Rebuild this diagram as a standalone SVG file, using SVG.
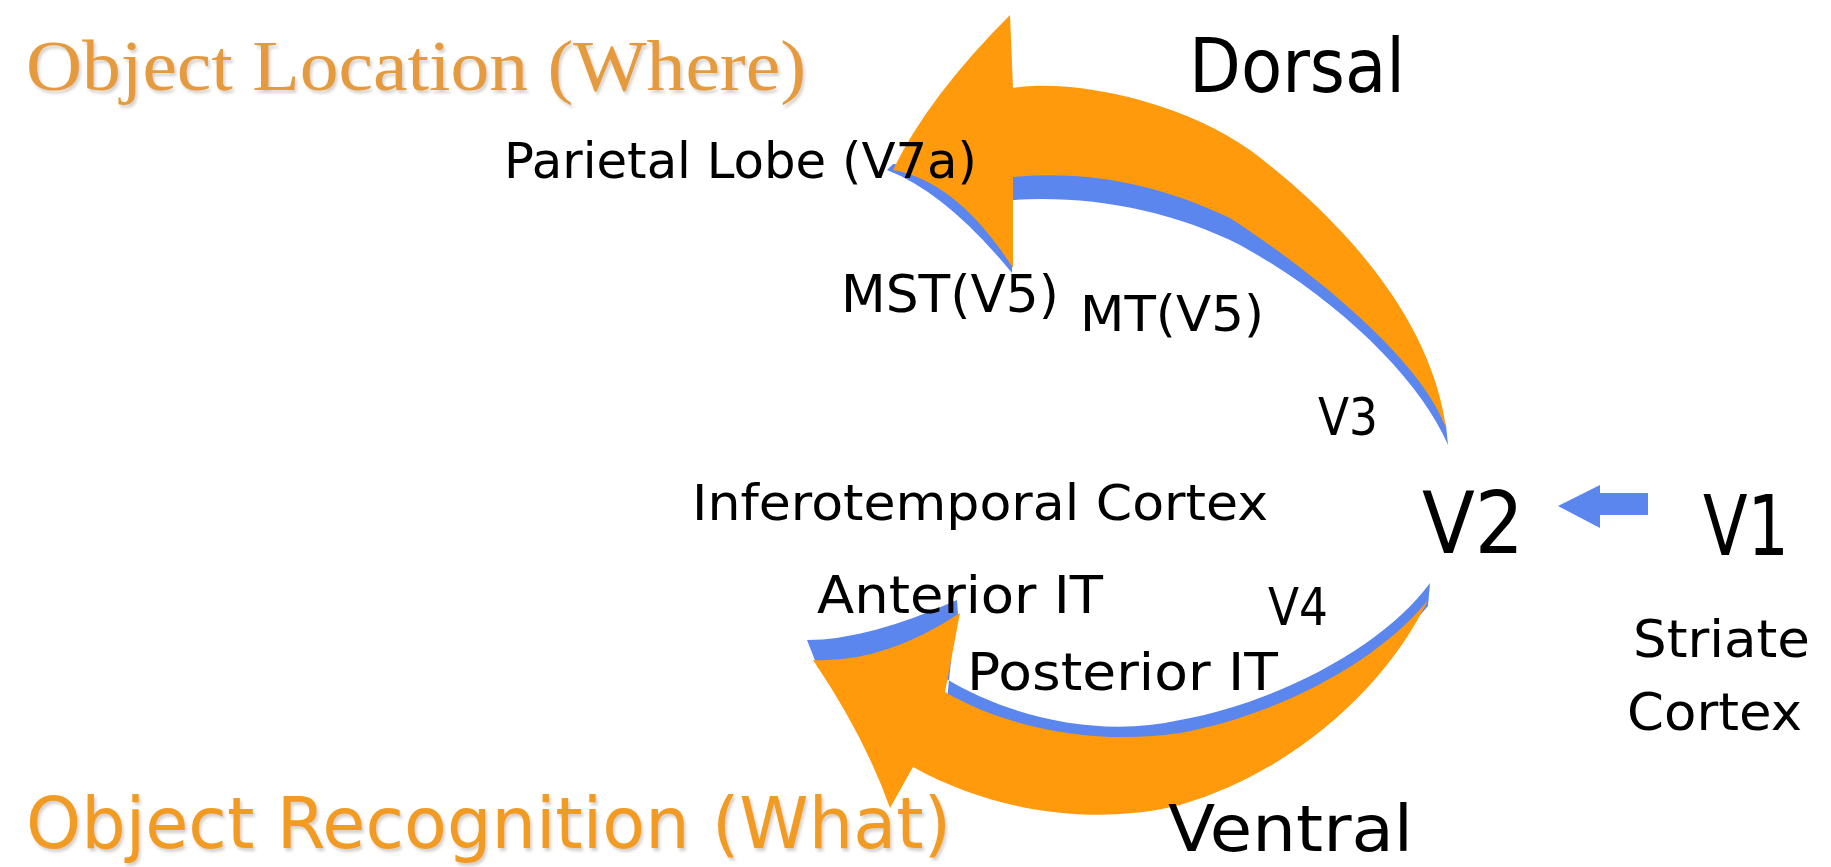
<svg xmlns="http://www.w3.org/2000/svg" width="1831" height="867" viewBox="0 0 1831 867">
  <defs>
    <filter id="shadow" x="-5%" y="-20%" width="110%" height="150%">
      <feDropShadow dx="2" dy="3" stdDeviation="1.5" flood-color="#8a7a6a" flood-opacity="0.35"/>
    </filter>
    <style>
      .lbl { font-family: "DejaVu Sans", "Liberation Sans", sans-serif; fill: #000000; }
      .title { fill: #F29B22; }
      .serif { font-family: "Liberation Serif", "DejaVu Serif", serif; fill: #E49A3C; }
      .orange { fill: #FF9A0C; }
      .blue { fill: #5B86EE; }
    </style>
  </defs>
  <rect x="0" y="0" width="1831" height="867" fill="#ffffff"/>

  <g id="title-where">
    <text class="serif" x="26" y="90" font-size="72" textLength="780" lengthAdjust="spacingAndGlyphs" filter="url(#shadow)">Object Location (Where)</text>
  </g>
  <g id="title-what">
    <text class="lbl title" x="26" y="848" font-size="72" textLength="925" lengthAdjust="spacingAndGlyphs" filter="url(#shadow)">Object Recognition (What)</text>
  </g>

  <g id="connectors">
    <g id="dorsal-arrow">
      <path class="blue" d="M1448,445 C1420,380 1340,300 1240,245 C1170,210 1090,195 1012,200 L1012,273 Q946.5,193 887,170 L893,164 L1012,172 C1090,165 1160,178 1230,212 C1340,285 1425,365 1446,425 Z"/>
      <path class="orange" d="M1010,15 L1013,88 C1070,78 1180,100 1250,150 C1330,210 1430,310 1446,428 C1425,370 1340,290 1230,218 C1160,185 1090,170 1013,177 L1013,268 Q957.5,181.5 893,170 Q928,97 1010,15 Z"/>
    </g>
    <g id="ventral-arrow">
      <path class="blue" d="M807,640 Q868,640 957,600 L958,615 L943,677 C1010,718 1100,738 1180,720 C1280,702 1385,645 1430,583 L1428,606 C1380,666 1280,721 1180,739 C1100,751 1010,736 947,700 L955,622 Q885,670 818,668 Z"/>
      <path class="orange" d="M890,808 Q864.5,736 813,660 Q883.5,663.5 960,613 L945,692 C1010,730 1100,745 1180,733 C1280,715 1380,660 1428,600 C1390,680 1300,770 1180,805 C1100,825 1000,815 913,767 Z"/>
    </g>
    <g id="v1-to-v2">
      <path class="blue" d="M1648,493 L1600,493 L1600,485 L1558,506 L1600,528 L1600,515 L1648,515 Z"/>
    </g>
  </g>

  <g id="node-dorsal"><text class="lbl" x="1189" y="92" font-size="74" textLength="216" lengthAdjust="spacingAndGlyphs">Dorsal</text></g>
  <g id="node-parietal"><text class="lbl" x="504" y="178" font-size="50" textLength="473" lengthAdjust="spacingAndGlyphs">Parietal Lobe (V7a)</text></g>
  <g id="node-mst"><text class="lbl" x="841" y="312" font-size="52" textLength="218" lengthAdjust="spacingAndGlyphs">MST(V5)</text></g>
  <g id="node-mt"><text class="lbl" x="1080" y="331" font-size="50" textLength="184" lengthAdjust="spacingAndGlyphs">MT(V5)</text></g>
  <g id="node-v3"><text class="lbl" x="1318" y="435" font-size="52" textLength="60" lengthAdjust="spacingAndGlyphs">V3</text></g>
  <g id="node-it"><text class="lbl" x="692" y="520" font-size="50" textLength="576" lengthAdjust="spacingAndGlyphs">Inferotemporal Cortex</text></g>
  <g id="node-v2"><text class="lbl" x="1422" y="553" font-size="86" textLength="102" lengthAdjust="spacingAndGlyphs">V2</text></g>
  <g id="node-v1"><text class="lbl" x="1703" y="555" font-size="84" textLength="86" lengthAdjust="spacingAndGlyphs">V1</text></g>
  <g id="node-striate">
    <text class="lbl" x="1633" y="657" font-size="52" textLength="177" lengthAdjust="spacingAndGlyphs">Striate</text>
    <text class="lbl" x="1627" y="730" font-size="52" textLength="175" lengthAdjust="spacingAndGlyphs">Cortex</text>
  </g>
  <g id="node-anterior"><text class="lbl" x="817" y="613" font-size="52" textLength="286" lengthAdjust="spacingAndGlyphs">Anterior IT</text></g>
  <g id="node-v4"><text class="lbl" x="1268" y="625" font-size="52" textLength="60" lengthAdjust="spacingAndGlyphs">V4</text></g>
  <g id="node-posterior"><text class="lbl" x="967" y="690" font-size="52" textLength="311" lengthAdjust="spacingAndGlyphs">Posterior IT</text></g>
  <g id="node-ventral"><text class="lbl" x="1168" y="851" font-size="64" textLength="245" lengthAdjust="spacingAndGlyphs">Ventral</text></g>
</svg>
